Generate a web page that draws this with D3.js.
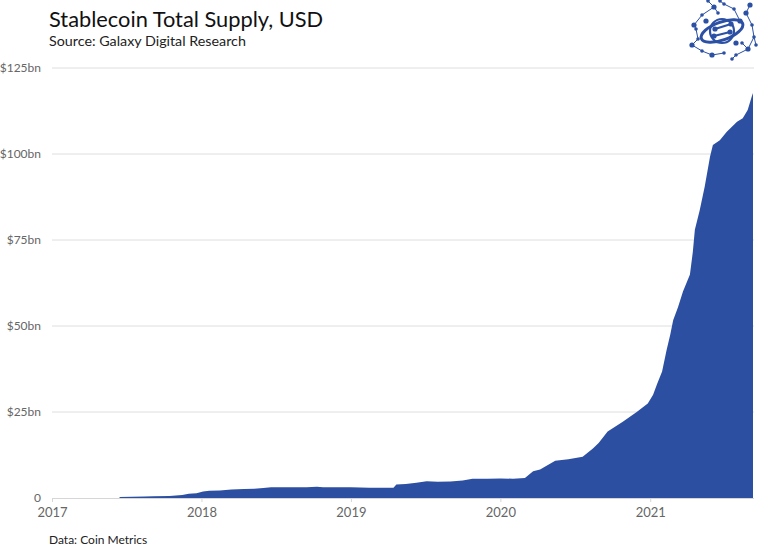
<!DOCTYPE html>
<html><head><meta charset="utf-8">
<script src="https://cdn.jsdelivr.net/npm/d3@7"></script>
<style>
html,body{margin:0;padding:0;background:#fff;}
svg{display:block;font-family:Lato,"Noto Sans",sans-serif;}
</style></head><body>
<svg id="chart" width="760" height="546"></svg>
<script>
// ---- data ----
const dates = ["2017-06-15","2017-07-15","2017-08-15","2017-09-05","2017-10-15","2017-11-15","2017-12-01","2017-12-20",
"2018-01-05","2018-01-20","2018-02-15","2018-03-15","2018-04-15","2018-05-10","2018-06-01","2018-06-20","2018-08-01",
"2018-09-15","2018-10-10","2018-10-25","2018-12-01","2019-01-01","2019-02-15","2019-04-15","2019-04-22","2019-05-15",
"2019-06-10","2019-07-05","2019-08-01","2019-09-01","2019-10-01","2019-10-25","2019-12-01","2020-01-01","2020-02-01",
"2020-03-01","2020-03-21","2020-04-07","2020-05-14","2020-06-15","2020-07-20","2020-08-14","2020-08-28","2020-09-19",
"2020-10-26","2020-11-29","2020-12-26","2021-01-08","2021-01-18","2021-01-30","2021-02-10","2021-02-19","2021-02-26",
"2021-03-10","2021-03-22","2021-04-08","2021-04-15","2021-04-20","2021-05-02","2021-05-14","2021-05-27","2021-06-03",
"2021-06-20","2021-07-07","2021-08-01","2021-08-15","2021-08-27","2021-09-06","2021-09-09"];
const supply = [0.3,0.35,0.4,0.5,0.6,0.9,1.2,1.4,
1.9,2.1,2.2,2.5,2.6,2.7,2.9,3.1,3.1,
3.1,3.3,3.1,3.1,3.1,3.0,3.0,3.9,4.1,
4.4,4.9,4.7,4.8,5.1,5.6,5.6,5.7,5.6,
5.8,7.8,8.3,10.8,11.3,12.0,14.4,16.0,19.3,
22.2,25.0,27.5,30.0,33.2,36.8,43.0,47.5,51.7,
55.5,60.0,65.0,71.5,78.0,83.7,90.5,99.2,102.6,
104.0,106.5,109.4,110.4,112.8,116.7,117.7];
const yTicks = [0,25,50,75,100,125];
const yTickLabels = ["0","$25bn","$50bn","$75bn","$100bn","$125bn"];
const xTickYears = [2017,2018,2019,2020,2021];

const title = "Stablecoin Total Supply, USD";
const subtitle = "Source: Galaxy Digital Research";
const footnote = "Data: Coin Metrics";

// ---- layout ----
const svg = d3.select("#chart");
const parse = d3.timeParse("%Y-%m-%d");
const data = dates.map((d,i)=>({date:parse(d), v:supply[i]}));

const x = d3.scaleTime().domain([new Date(2017,0,1), parse("2021-09-09")]).range([52,753]);
const y = d3.scaleLinear().domain([0,125]).range([498,68]);

// gridlines
svg.append("g").selectAll("line").data(yTicks.filter(d=>d>0)).join("line")
  .attr("x1",52).attr("x2",754).attr("y1",d=>y(d)).attr("y2",d=>y(d))
  .attr("stroke","#dedede").attr("stroke-width",1);

// area
const area = d3.area().x(d=>x(d.date)).y0(y(0)).y1(d=>y(d.v)).curve(d3.curveLinear);
svg.append("path").datum(data).attr("d",area).attr("fill","#2c4fa2");

// x axis
const xAxis = d3.axisBottom(x)
  .tickValues(xTickYears.map(yr=>new Date(yr,0,1)))
  .tickFormat(d3.timeFormat("%Y")).tickSize(4).tickPadding(6);
const gx = svg.append("g").attr("transform",`translate(0,${y(0)})`).call(xAxis);
gx.select(".domain").attr("stroke","#d6d6d6").attr("d",`M52,0.5H754`);
gx.selectAll(".tick line").attr("stroke","#d6d6d6");
gx.selectAll(".tick text").attr("fill","#666").style("font-size","13px").style("font-family","Lato");

// y axis labels
const yAxis = d3.axisLeft(y).tickValues(yTicks).tickFormat((d,i)=>yTickLabels[i]).tickSize(0).tickPadding(0);
const gy = svg.append("g").attr("transform","translate(41,0)").call(yAxis);
gy.select(".domain").remove();
gy.selectAll(".tick text").attr("fill","#666").style("font-size","12px").style("font-family","Lato");

// titles
svg.append("text").attr("x",49).attr("y",27).text(title)
  .attr("fill","#111").style("font-size","21.8px").style("font-family","Lato");
svg.append("text").attr("x",49).attr("y",46).text(subtitle)
  .attr("fill","#222").style("font-size","14.3px").style("font-family","Lato");
svg.append("text").attr("x",49).attr("y",544).text(footnote)
  .attr("fill","#222").style("font-size","12px").style("font-family","Lato");

// logo (decorative)
const logo = svg.append("g").attr("transform","translate(722,31)");
const col = "#2b50a4";
const nodes = [[-28,-6],[-24,8],[-20,-16],[-8,-24],[2,-27],[12,-22],[24,-18],[30,-6],[32,6],[26,18],[14,24],[2,22],[-10,24],[-20,20],[-4,-18],[18,-10],[-26,-2],[10,28],[28,-26],[-14,-30],[34,14],[-30,14],[-2,-30],[20,12]];
const links = [[0,2],[2,3],[3,14],[4,5],[5,15],[6,7],[7,8],[8,9],[9,10],[10,17],[11,12],[12,13],[13,21],[0,16],[16,1],[6,18],[3,19],[4,22],[8,20],[9,23],[1,21]];
logo.selectAll("line").data(links).join("line")
  .attr("x1",d=>nodes[d[0]][0]).attr("y1",d=>nodes[d[0]][1])
  .attr("x2",d=>nodes[d[1]][0]).attr("y2",d=>nodes[d[1]][1])
  .attr("stroke",col).attr("stroke-width",1);
logo.selectAll("circle.n").data(nodes).join("circle").attr("class","n")
  .attr("cx",d=>d[0]).attr("cy",d=>d[1]).attr("r",(d,i)=>i%3===0?2.6:1.8).attr("fill",col);
logo.append("ellipse").attr("rx",22).attr("ry",9).attr("transform","rotate(-20)")
  .attr("fill","none").attr("stroke",col).attr("stroke-width",3);
logo.append("circle").attr("r",12).attr("fill","none").attr("stroke",col).attr("stroke-width",2.2);
logo.append("line").attr("x1",-7).attr("y1",-2).attr("x2",9).attr("y2",-7).attr("stroke",col).attr("stroke-width",2.2);
logo.append("line").attr("x1",-8).attr("y1",5).attr("x2",8).attr("y2",1).attr("stroke",col).attr("stroke-width",2.2);
logo.selectAll("circle.c").data([[-7,-2],[9,-7],[8,1],[-8,5],[-16,-10],[14,12]]).join("circle").attr("class","c")
  .attr("cx",d=>d[0]).attr("cy",d=>d[1]).attr("r",2.6).attr("fill",col);
</script>
</body></html>
